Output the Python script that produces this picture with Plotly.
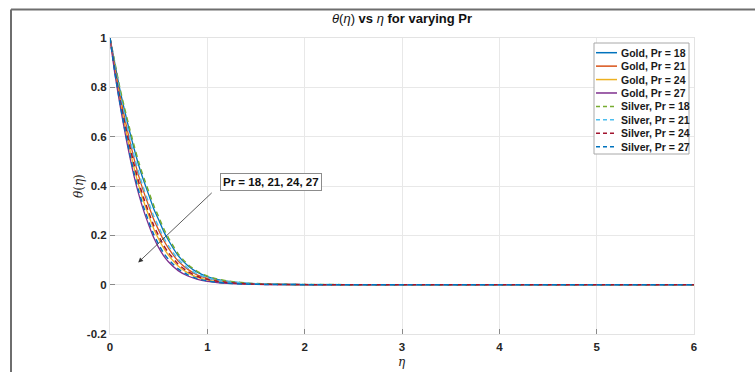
import plotly.graph_objects as go

# ---------------- data ----------------
eta = [0, 0.05, 0.1, 0.15, 0.2, 0.25, 0.3, 0.35, 0.4, 0.45, 0.5, 0.55, 0.6,
       0.7, 0.8, 0.9, 1.0, 1.1, 1.2, 1.4, 1.6, 1.8, 2.0, 2.5, 3.0, 4.0, 5.0, 6.0]

gold_pr18 = [1, 0.896, 0.794, 0.706, 0.624, 0.548, 0.477, 0.417, 0.362, 0.307, 0.263, 0.217, 0.180,
             0.118, 0.077, 0.050, 0.033, 0.0215, 0.014, 0.006, 0.0026, 0.0011, 0.0005, 0.0001, 0, 0, 0, 0]
gold_pr21 = [1, 0.881, 0.772, 0.676, 0.588, 0.506, 0.434, 0.372, 0.317, 0.264, 0.221, 0.181, 0.148,
             0.096, 0.062, 0.039, 0.0255, 0.0165, 0.0107, 0.0046, 0.0019, 0.0008, 0.0003, 0.0001, 0, 0, 0, 0]
gold_pr24 = [1, 0.868, 0.753, 0.650, 0.556, 0.470, 0.396, 0.333, 0.278, 0.226, 0.185, 0.149, 0.120,
             0.076, 0.048, 0.030, 0.0192, 0.0122, 0.0078, 0.0033, 0.0013, 0.0005, 0.0002, 0, 0, 0, 0, 0]
gold_pr27 = [1, 0.855, 0.735, 0.625, 0.525, 0.435, 0.360, 0.295, 0.240, 0.190, 0.150, 0.118, 0.093,
             0.057, 0.035, 0.021, 0.013, 0.008, 0.005, 0.002, 0.0007, 0.0002, 0.0001, 0, 0, 0, 0, 0]

silver_pr18 = [1, 0.900, 0.800, 0.715, 0.635, 0.560, 0.490, 0.430, 0.375, 0.320, 0.275, 0.228, 0.190,
               0.125, 0.082, 0.053, 0.035, 0.023, 0.015, 0.0065, 0.0028, 0.0012, 0.0005, 0.0001, 0, 0, 0, 0]
silver_pr21 = [1, 0.885, 0.779, 0.685, 0.599, 0.519, 0.447, 0.385, 0.330, 0.277, 0.234, 0.192, 0.158,
               0.103, 0.0665, 0.0424, 0.0277, 0.018, 0.0117, 0.005, 0.0021, 0.0009, 0.0004, 0.0001, 0, 0, 0, 0]
silver_pr24 = [1, 0.872, 0.760, 0.659, 0.567, 0.483, 0.409, 0.346, 0.291, 0.239, 0.198, 0.160, 0.130,
               0.083, 0.053, 0.033, 0.0214, 0.0137, 0.0088, 0.0037, 0.0015, 0.0006, 0.0002, 0, 0, 0, 0, 0]
silver_pr27 = [1, 0.860, 0.742, 0.634, 0.536, 0.448, 0.373, 0.309, 0.254, 0.203, 0.163, 0.129, 0.103,
               0.064, 0.040, 0.024, 0.0152, 0.0095, 0.006, 0.0025, 0.0009, 0.0003, 0.0001, 0, 0, 0, 0, 0]

series_names = ["Gold, Pr = 18", "Gold, Pr = 21", "Gold, Pr = 24", "Gold, Pr = 27",
                "Silver, Pr = 18", "Silver, Pr = 21", "Silver, Pr = 24", "Silver, Pr = 27"]
series_values = [gold_pr18, gold_pr21, gold_pr24, gold_pr27,
                 silver_pr18, silver_pr21, silver_pr24, silver_pr27]

x_tick_vals = [0, 1, 2, 3, 4, 5, 6]
x_tick_text = ["0", "1", "2", "3", "4", "5", "6"]
y_tick_vals = [-0.2, 0, 0.2, 0.4, 0.6, 0.8, 1]
y_tick_text = ["-0.2", "0", "0.2", "0.4", "0.6", "0.8", "1"]

annotation_text = "Pr = 18, 21, 24, 27"
arrow_head = (0.29, 0.09)  # data point the arrow points at

# ---------------- styles ----------------
colors = ["#0072BD", "#D95319", "#EDB120", "#7E2F8E",
          "#77AC30", "#4DBEEE", "#A2142F", "#0072BD"]
dashes = ["solid"] * 4 + ["5px,4px"] * 4
widths = [1.3] * 4 + [1.5] * 4

W, H = 755, 372
ML, MR, MT, MB = 110, 61, 38, 38
PW, PH = W - ML - MR, H - MT - MB


def px_x(p):
    return (p - ML) / PW


def px_y(p):
    return (H - MB - p) / PH


FONT = "Liberation Sans, Arial, sans-serif"

fig = go.Figure()
for name, vals, c, d, w in zip(series_names, series_values, colors, dashes, widths):
    fig.add_trace(go.Scatter(x=eta, y=vals, mode="lines", name=name,
                             line=dict(color=c, width=w, dash=d, shape="spline", smoothing=0.6),
                             showlegend=False))

shapes = []
annotations = []

# outer figure frame (top and left gray border)
shapes.append(dict(type="line", xref="paper", yref="paper",
                   x0=px_x(11), x1=px_x(760), y0=px_y(9.5), y1=px_y(9.5),
                   line=dict(color="#6e6e6e", width=2)))
shapes.append(dict(type="line", xref="paper", yref="paper",
                   x0=px_x(11), x1=px_x(11), y0=px_y(9.5), y1=px_y(380),
                   line=dict(color="#6e6e6e", width=2)))

# legend box
shapes.append(dict(type="rect", xref="paper", yref="paper",
                   x0=px_x(594), x1=px_x(689), y0=px_y(43), y1=px_y(154),
                   line=dict(color="#a8a8a8", width=1), fillcolor="white", layer="above"))
row0, rowstep = 52.7, 13.43
for i, (name, c, d) in enumerate(zip(series_names, colors, dashes)):
    yy = px_y(row0 + i * rowstep)
    shapes.append(dict(type="line", xref="paper", yref="paper",
                       x0=px_x(596), x1=px_x(617), y0=yy, y1=yy,
                       line=dict(color=c, width=1.5, dash="4px,3px" if d != "solid" else "solid"),
                       layer="above"))
    annotations.append(dict(xref="paper", yref="paper", x=px_x(618.5), y=yy,
                            text="<b>%s</b>" % name, showarrow=False,
                            xanchor="left", yanchor="middle",
                            font=dict(family=FONT, size=10.5, color="#1a1a1a")))

# text-arrow annotation: arrow line (tail at the box corner), then text box
annotations.append(dict(xref="x", yref="y", x=arrow_head[0], y=arrow_head[1],
                        ax=75, ay=-71, axref="pixel", ayref="pixel",
                        text="", showarrow=True, arrowhead=2, arrowsize=1.2,
                        arrowwidth=0.8, arrowcolor="#333333", standoff=0, startstandoff=0))
annotations.append(dict(xref="paper", yref="paper", x=px_x(271.3), y=px_y(182.2),
                        text="<b>%s</b>" % annotation_text, showarrow=False,
                        xanchor="center", yanchor="middle",
                        font=dict(family=FONT, size=11.5, color="#111111"),
                        bordercolor="#8c8c8c", borderwidth=1, borderpad=2, bgcolor="white"))

# title and axis titles
annotations.append(dict(xref="paper", yref="paper", x=0.5, y=px_y(18),
                        text="<i>θ</i>(<i>η</i>) <b>vs</b> <i>η</i> <b>for varying Pr</b>",
                        showarrow=False, xanchor="center", yanchor="middle",
                        font=dict(family=FONT, size=13, color="#111111")))
annotations.append(dict(xref="paper", yref="paper", x=px_x(79), y=px_y(186),
                        text="<i>θ</i>(<i>η</i>)", textangle=-90, showarrow=False,
                        xanchor="center", yanchor="middle",
                        font=dict(family="DejaVu Serif, serif", size=12, color="#222222")))
annotations.append(dict(xref="paper", yref="paper", x=0.5, y=px_y(362),
                        text="<i>η</i>", showarrow=False,
                        xanchor="center", yanchor="middle",
                        font=dict(family="DejaVu Serif, serif", size=12, color="#222222")))

axis_common = dict(showgrid=True, gridcolor="#e8e8e8", gridwidth=1,
                   zeroline=False, showline=True, linecolor="#e3e3e3", linewidth=1,
                   mirror=True, ticks="inside", ticklen=5, tickcolor="#8a8a8a",
                   tickfont=dict(family=FONT, size=11.5, color="#262626", weight="bold"))

fig.update_layout(
    width=W, height=H, autosize=False,
    margin=dict(l=ML, r=MR, t=MT, b=MB, autoexpand=False),
    paper_bgcolor="white", plot_bgcolor="white",
    showlegend=False,
    xaxis=dict(range=[0, 6], tickvals=x_tick_vals, ticktext=x_tick_text,
               ticklabelstandoff=2, **axis_common),
    yaxis=dict(range=[-0.2, 1], tickvals=y_tick_vals, ticktext=y_tick_text, **axis_common),
    shapes=shapes, annotations=annotations,
)

fig.write_html("out.html")
